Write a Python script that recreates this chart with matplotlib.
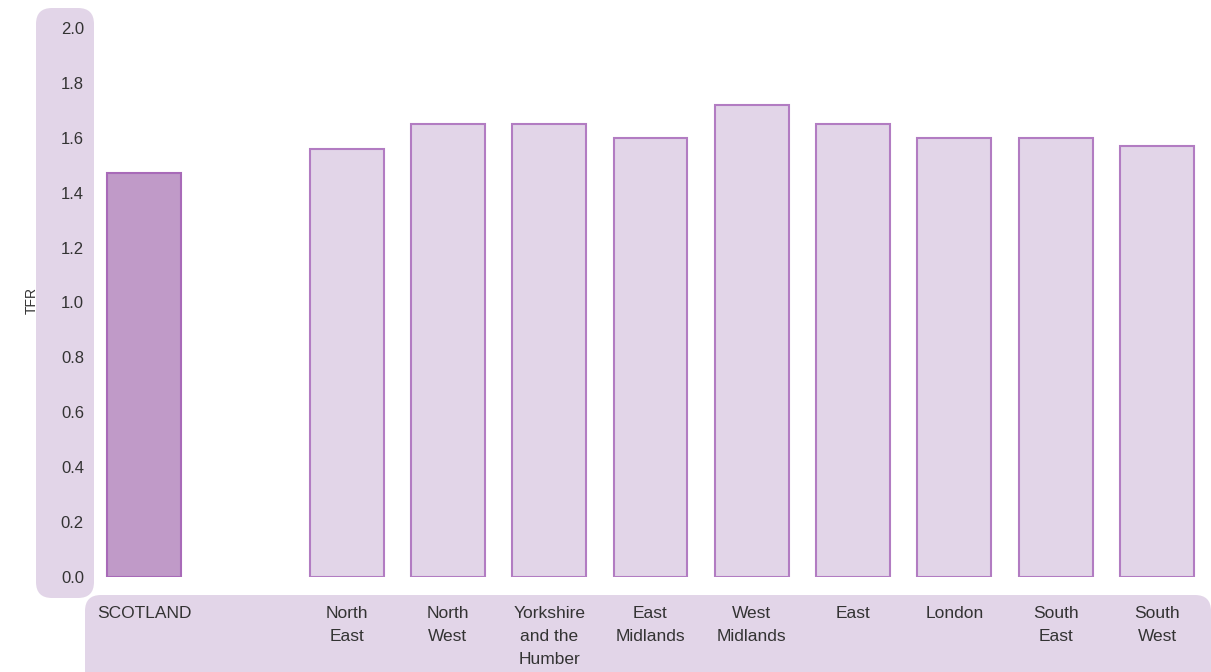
import matplotlib.pyplot as plt
from matplotlib.patches import FancyBboxPatch
from matplotlib.transforms import IdentityTransform

plt.rcParams['font.family'] = ['Liberation Sans', 'DejaVu Sans']

regions = ['SCOTLAND', 'North\nEast', 'North\nWest', 'Yorkshire\nand the\nHumber',
           'East\nMidlands', 'West\nMidlands', 'East', 'London', 'South\nEast', 'South\nWest']
tfr = [1.47, 1.56, 1.65, 1.65, 1.60, 1.72, 1.65, 1.60, 1.60, 1.57]
positions = [0, 2, 3, 4, 5, 6, 7, 8, 9, 10]
yticks = [0.0, 0.2, 0.4, 0.6, 0.8, 1.0, 1.2, 1.4, 1.6, 1.8, 2.0]

W, H = 1211, 672
fig = plt.figure(figsize=(W / 100, H / 100), dpi=100)

light = '#e2d5e8'
# rounded background panels (pixel coords, origin bottom-left)
fig.patches.append(FancyBboxPatch((36, H - 598), 58, 590,
                                  boxstyle='round,pad=0,rounding_size=16',
                                  fc=light, ec='none', transform=IdentityTransform(), zorder=-5))
fig.patches.append(FancyBboxPatch((85, -30), 1126, H - 595 + 30,
                                  boxstyle='round,pad=0,rounding_size=16',
                                  fc=light, ec='none', transform=IdentityTransform(), zorder=-5))

left_px, right_px = 95, 1211
bot_px, top_px = 577, 28
ax = fig.add_axes([left_px / W, 1 - bot_px / H, (right_px - left_px) / W, (bot_px - top_px) / H])
ax.set_zorder(2)
ax.patch.set_alpha(0)

fills = ['#c09ac8'] + [light] * 9
edges = ['#a86ab8'] + ['#b27cc2'] * 9
ax.bar(positions, tfr, width=0.73, color=fills, edgecolor=edges, linewidth=1.5, zorder=2)

unit = 101.3
ax.set_xlim((left_px - 144) / unit, (right_px - 144) / unit)
ax.set_ylim(0, 2.0)
ax.set_yticks(yticks)
ax.set_yticklabels([f'{v:.1f}' for v in yticks], fontsize=12, color='#333333')
ax.tick_params(axis='y', length=0, pad=8)
ax.set_xticks([])
for s in ax.spines.values():
    s.set_visible(False)

for p, lab in zip(positions, regions):
    ax.annotate(lab, xy=(p, 0), xycoords=('data', 'axes fraction'),
                xytext=(0, -21), textcoords='offset points', ha='center', va='top',
                fontsize=12.5, color='#333333', linespacing=1.68, annotation_clip=False)

fig.text(32 / W, 1 - 300 / H, 'TFR', rotation=90, ha='center', va='center',
         fontsize=10, color='#333333')

fig.savefig('out.png', dpi=100)
